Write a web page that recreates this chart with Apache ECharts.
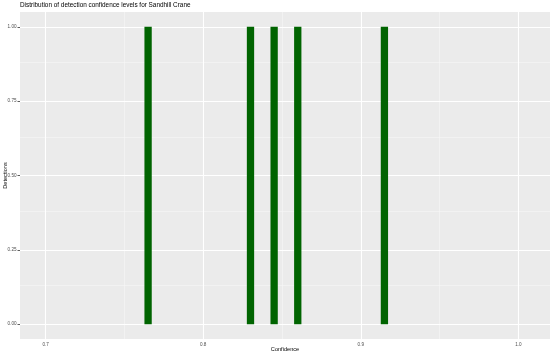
<!DOCTYPE html>
<html>
<head>
<meta charset="utf-8">
<script src="https://cdn.jsdelivr.net/npm/echarts@6/dist/echarts.min.js"></script>
<style>
html,body{margin:0;padding:0;background:#fff;}
#chart{width:553px;height:355px;}
</style>
</head>
<body>
<div id="chart"></div>
<script>
const titleText = "Distribution of detection confidence levels for Sandhill Crane";
const xName = "Confidence";
const yName = "Detections";
const confidence = [0.765, 0.830, 0.845, 0.860, 0.915];
const detections = [1, 1, 1, 1, 1];
const xMajorTicks = [0.7, 0.8, 0.9, 1.0];
const xMinorTicks = [0.75, 0.85, 0.95];
const yMajorTicks = [0, 0.25, 0.5, 0.75, 1.0];
const yMinorTicks = [0.125, 0.375, 0.625, 0.875];
const xTickLabels = ["0.7", "0.8", "0.9", "1.0"];
const yTickLabels = ["0.00", "0.25", "0.50", "0.75", "1.00"];

const chart = echarts.init(document.getElementById('chart'), null, {renderer: 'canvas'});
const font = "Liberation Sans, Arial, sans-serif";

const gridLines = [];
xMinorTicks.forEach(v => gridLines.push({xAxis: v, lineStyle: {color: '#f7f7f7', width: 0.55, type: 'solid'}}));
yMinorTicks.forEach(v => gridLines.push({yAxis: v, lineStyle: {color: '#f7f7f7', width: 0.55, type: 'solid'}}));
xMajorTicks.forEach(v => gridLines.push({xAxis: v, lineStyle: {color: '#ffffff', width: 1.1, type: 'solid'}}));
yMajorTicks.forEach(v => gridLines.push({yAxis: v, lineStyle: {color: '#ffffff', width: 1.1, type: 'solid'}}));

const xLabelMap = {};
xMajorTicks.forEach((v, i) => xLabelMap[v.toFixed(2)] = xTickLabels[i]);
const yLabelMap = {};
yMajorTicks.forEach((v, i) => yLabelMap[v.toFixed(3)] = yTickLabels[i]);

chart.setOption({
  animation: false,
  backgroundColor: '#ffffff',
  title: {
    text: titleText,
    left: 20, top: 2.5, padding: 0,
    textStyle: {fontFamily: font, fontSize: 6.4, fontWeight: 'normal', color: '#000'}
  },
  grid: {left: 20, right: 3, top: 12, bottom: 16, show: true, backgroundColor: '#ebebeb', borderWidth: 0,
    containLabel: false, outerBoundsMode: 'none'},
  xAxis: {
    type: 'value',
    min: 0.6837, max: 1.0201,
    name: xName, nameLocation: 'middle', nameGap: 7, nameMoveOverlap: false,
    nameTextStyle: {fontFamily: font, fontSize: 5.6, color: '#000'},
    axisLine: {show: false},
    axisTick: {show: true, customValues: xMajorTicks, length: 2.5, lineStyle: {color: '#333', width: 0.8}},
    axisLabel: {show: true, customValues: xMajorTicks, margin: 3.5, fontFamily: font, fontSize: 4.6, color: '#4d4d4d',
      formatter: v => xLabelMap[Number(v).toFixed(2)] || ''},
    splitLine: {show: false}
  },
  yAxis: {
    type: 'value',
    min: -0.05, max: 1.05,
    name: yName, nameLocation: 'middle', nameGap: 12, nameRotate: 90, nameMoveOverlap: false,
    nameTextStyle: {fontFamily: font, fontSize: 5.6, color: '#000'},
    axisLine: {show: false},
    axisTick: {show: true, customValues: yMajorTicks, length: 2.5, lineStyle: {color: '#333', width: 0.8}},
    axisLabel: {show: true, customValues: yMajorTicks, margin: 3.5, fontFamily: font, fontSize: 4.6, color: '#4d4d4d',
      formatter: v => yLabelMap[Number(v).toFixed(3)] || ''},
    splitLine: {show: false}
  },
  series: [
    {
      type: 'line', data: [], z: 1, silent: true,
      markLine: {silent: true, symbol: 'none', z: 1, label: {show: false}, animation: false, data: gridLines}
    },
    {
      type: 'bar', z: 3, barWidth: 7.3,
      itemStyle: {color: '#006400'},
      data: confidence.map((c, i) => [c, detections[i]])
    }
  ]
});
</script>
</body>
</html>
